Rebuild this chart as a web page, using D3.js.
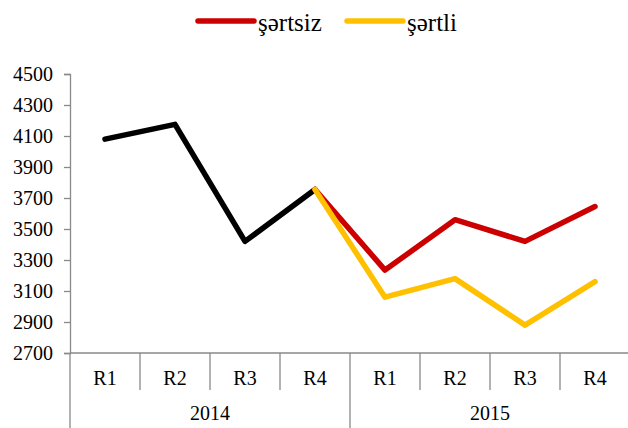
<!DOCTYPE html>
<html>
<head>
<meta charset="utf-8">
<script src="https://cdn.jsdelivr.net/npm/d3@7"></script>
<style>
  body { margin: 0; background: #fff; }
</style>
</head>
<body>
<div id="chart"></div>
<script>
// data
const years = ['2014', '2015'];
const quarters = ['R1', 'R2', 'R3', 'R4'];
const history = [4080, 4175, 3420, 3755];             // 2014 R1..R4
const unconditional = [3755, 3235, 3560, 3420, 3645]; // şərtsiz, 2014 R4 .. 2015 R4
const conditional = [3755, 3060, 3180, 2880, 3160];   // şərtli, 2014 R4 .. 2015 R4
const yTicks = [2700, 2900, 3100, 3300, 3500, 3700, 3900, 4100, 4300, 4500];

const width = 628, height = 428;
const margin = { top: 74, right: -2, bottom: 75, left: 70 };
const innerW = width - margin.left - margin.right;
const innerH = height - margin.top - margin.bottom;
const axisColor = '#898989';
const serif = "'Liberation Serif', 'Times New Roman', serif";

// one slot per year/quarter pair
const slots = [];
years.forEach(y => quarters.forEach(q => slots.push(y + '-' + q)));

const svg = d3.select('#chart').append('svg')
  .attr('width', width)
  .attr('height', height);

const g = svg.append('g')
  .attr('transform', `translate(${margin.left},${margin.top})`);

const x = d3.scaleBand().domain(slots).range([0, innerW]);
const y = d3.scaleLinear().domain([2700, 4500]).range([innerH, 0]);

// y axis
const yAxis = g.append('g')
  .call(d3.axisLeft(y).tickValues(yTicks).tickSize(6).tickPadding(11).tickFormat(d3.format('d')));
yAxis.select('.domain').attr('stroke', axisColor).attr('stroke-width', 1.3);
yAxis.selectAll('.tick line').attr('stroke', axisColor).attr('stroke-width', 1.3);
yAxis.selectAll('.tick text')
  .style('font-family', serif)
  .style('font-size', '20px')
  .attr('fill', '#000');

// x axis: horizontal line + quarter dividers + year dividers
const xAxis = g.append('g').attr('transform', `translate(0,${innerH})`);
xAxis.append('line')
  .attr('x1', 0).attr('x2', innerW)
  .attr('stroke', axisColor).attr('stroke-width', 1.3);

xAxis.selectAll('.qdiv')
  .data(slots.filter((d, i) => i % 4 !== 0))
  .enter().append('line')
  .attr('x1', d => x(d)).attr('x2', d => x(d))
  .attr('y1', 0).attr('y2', 37)
  .attr('stroke', axisColor).attr('stroke-width', 1.3);

xAxis.selectAll('.ydiv')
  .data(years)
  .enter().append('line')
  .attr('x1', d => x(d + '-R1')).attr('x2', d => x(d + '-R1'))
  .attr('y1', 0).attr('y2', 80)
  .attr('stroke', axisColor).attr('stroke-width', 1.3);

xAxis.selectAll('.qlabel')
  .data(slots)
  .enter().append('text')
  .attr('x', d => x(d) + x.bandwidth() / 2)
  .attr('y', 32)
  .attr('text-anchor', 'middle')
  .style('font-family', serif)
  .style('font-size', '20px')
  .text(d => d.split('-')[1]);

xAxis.selectAll('.ylabel')
  .data(years)
  .enter().append('text')
  .attr('x', d => x(d + '-R1') + x.bandwidth() * 2)
  .attr('y', 67)
  .attr('text-anchor', 'middle')
  .style('font-family', serif)
  .style('font-size', '20px')
  .text(d => d);

// lines
const cx = d => x(d) + x.bandwidth() / 2;
const line = d3.line().x(d => cx(d.k)).y(d => y(d.v));

const histPts = history.map((v, i) => ({ k: '2014-' + quarters[i], v }));
const fcKeys = ['2014-R4'].concat(quarters.map(q => '2015-' + q));
const uncPts = unconditional.map((v, i) => ({ k: fcKeys[i], v }));
const conPts = conditional.map((v, i) => ({ k: fcKeys[i], v }));

[[histPts, '#000000'], [uncPts, '#cc0000'], [conPts, '#ffc000']].forEach(([pts, c]) => {
  g.append('path')
    .datum(pts)
    .attr('d', line)
    .attr('fill', 'none')
    .attr('stroke', c)
    .attr('stroke-width', 5.5)
    .attr('stroke-linecap', 'round')
    .attr('stroke-linejoin', 'round');
});

// legend
const legendItems = [
  { name: 'şərtsiz', color: '#cc0000', x: 198 },
  { name: 'şərtli', color: '#ffc000', x: 347 }
];
const legend = svg.append('g');
legendItems.forEach(it => {
  legend.append('line')
    .attr('x1', it.x).attr('x2', it.x + 56)
    .attr('y1', 21).attr('y2', 21)
    .attr('stroke', it.color).attr('stroke-width', 5.5)
    .attr('stroke-linecap', 'round');
  legend.append('text')
    .attr('x', it.x + 60).attr('y', 31)
    .style('font-family', serif)
    .style('font-size', '25px')
    .text(it.name);
});
</script>
</body>
</html>
